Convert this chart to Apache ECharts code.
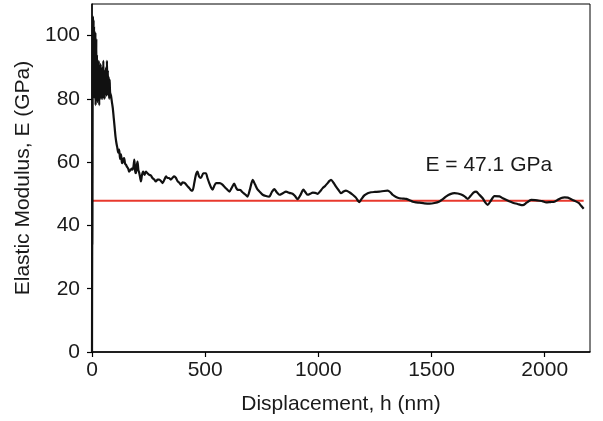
<!DOCTYPE html>
<html>
<head>
<meta charset="utf-8">
<script src="https://cdn.jsdelivr.net/npm/echarts@6/dist/echarts.min.js"></script>
<style>html,body{margin:0;padding:0;background:#fff}#c{width:603px;height:421px}</style>
</head>
<body>
<div id="c"></div>
<script>
// Displacement h (nm)
const hValues = [0,0.4,0.8,1.2,1.6,2,2.5,3,3.5,4,5,6,7,8,9,10,11,12,13,14,15,16,17,18,19,20,22,24,26,28,30,32,34,36,38,40,42,44,46,48,50,52,54,56,58,60,62,64,66,68,70,72,74,76,78,80,84,88,92,96,
100,104,108,112,116,120,124,128,132,135,138,142,146,150,155,160,164,170,175,179,183,187,191,194,198,201,205,209,213,216,221,226,232,238,245,253,260,267,275,282,290,297,305,312,320,327,334,340,348,355,363,371,378,386,393,400,408,415,423,430,437,444,452,459,466,473,481,492,503,510,518,526,533,540,548,556,565,575,584,595,607,618,628,636,643,655,665,677,687,698,710,720,732,743,754,768,783,794,805,816,828,843,857,872,886,897,908,920,934,943,953,964,975,986,997,1008,1019,1030,1040,1048,1056,1067,1078,1089,1100,1111,1122,1137,1152,1166,1175,1181,1190,1203,1218,1233,1250,1270,1290,1306,1318,1328,1343,1358,1373,1388,1403,1417,1432,1446,1468,1491,1513,1535,1550,1565,1583,1601,1616,1631,1646,1660,1672,1685,1697,1710,1726,1737,1748,1760,1778,1800,1815,1829,1845,1859,1880,1903,1920,1940,1958,1977,1992,2006,2025,2043,2058,2073,2088,2102,2117,2132,2150,2160,2172];
// Elastic modulus E (GPa)
const eValues = [0,18,30,38,34,42,62,85,100,106,104,96,105,90,103,86,100,80,98,84,101,78,96,83,99,80,94,79,90,81,92,78,88,82,91,80,87,83,90,80,92,83,88,80,89,82,90,81,92,84,89,81,87,80,86,82,81,79,77,74,
71,68,66,64.5,63,64,61,62.5,60,59.7,61,61.3,59.5,59.2,58.5,58,57,57.5,58,57.6,58.5,60.8,57,56.5,59,60.2,57.5,56.5,55,53.9,56,57,56,57,56.5,56,55.8,55,54.5,53.9,54.5,54.5,54,53.4,54.5,55.5,55,55,54.5,55,55.5,55,54,53.5,52.8,53.6,53.5,53,52.3,51.8,51.2,51,53.5,56,57,55.5,55,56.5,56.5,55,53.4,52,51.3,52.5,53.4,53.4,53.4,53,52.3,51.5,50.7,52,53.2,52,51.3,51.2,50.5,49.8,49.1,51.5,54.4,53,51.3,50.5,49.7,49.3,49.1,50.5,51.5,50.5,49.7,50.2,50.7,50.3,50,49.3,48.3,49.5,51.3,50.5,49.7,50,50.4,50.3,50,50.8,51.8,52.5,53.3,54,54.4,53.5,52.3,51.2,50.2,50.7,51,50.5,49.7,48.8,47.8,47.4,48.3,49.5,50.2,50.5,50.6,50.7,50.9,51,50.5,49.7,49,48.6,48.5,48.4,48,47.5,47.3,47.2,47,46.9,47.1,47.6,48.3,49.2,49.9,50.2,50.1,49.8,49.2,48.4,49.3,50.4,50.7,49.8,48.6,47.3,46.5,47.6,49.3,49.2,48.6,48.1,47.6,47.2,46.8,46.4,47.2,48.1,48,47.8,47.6,47.3,47.4,47.5,48.1,48.7,48.9,48.8,48.3,47.8,47.1,46.3,45.3];
// Fitted modulus line
const fitE = 47.8;
const fitRange = [0, 2172];
const annotationText = 'E = 47.1 GPa';
const annotationPos = [1753, 58.9];
const xTicks = [0, 500, 1000, 1500, 2000];
const yTicks = [0, 20, 40, 60, 80, 100];

const curve = hValues.map((h, i) => [h, eValues[i]]);
const fitLine = fitRange.map(h => [h, fitE]);

const FONT = 'Liberation Sans, Arial, Helvetica, sans-serif';
const TXT = '#1a1a1a';
const chart = echarts.init(document.getElementById('c'), null, {renderer: 'canvas'});
chart.setOption({
  animation: false,
  backgroundColor: '#fff',
  grid: {left: 92, top: 4, right: 13, bottom: 69, show: true, borderColor: '#000', borderWidth: 1, backgroundColor: 'transparent'},
  xAxis: {
    type: 'value', min: 0, max: 2200,
    name: 'Displacement, h (nm)', nameLocation: 'middle', nameGap: 42,
    nameTextStyle: {fontFamily: FONT, fontSize: 21, color: TXT},
    axisLine: {show: true, lineStyle: {color: '#000', width: 1.5}},
    axisTick: {show: true, length: 5, lineStyle: {color: '#000', width: 1.2}, customValues: xTicks},
    axisLabel: {fontFamily: FONT, fontSize: 21, color: TXT, margin: 8, customValues: xTicks, formatter: v => String(v)},
    splitLine: {show: false}
  },
  yAxis: {
    type: 'value', min: 0, max: 110,
    name: 'Elastic Modulus, E (GPa)', nameLocation: 'middle', nameGap: 55, nameRotate: 90,
    nameTextStyle: {fontFamily: FONT, fontSize: 21, color: TXT},
    axisLine: {show: true, lineStyle: {color: '#000', width: 1.5}},
    axisTick: {show: true, length: 5, lineStyle: {color: '#000', width: 1.2}, customValues: yTicks},
    axisLabel: {fontFamily: FONT, fontSize: 21, color: TXT, margin: 12, customValues: yTicks, formatter: v => String(v)},
    splitLine: {show: false}
  },
  series: [
    {type: 'line', data: fitLine, showSymbol: false, lineStyle: {color: '#e8382d', width: 2}, z: 2},
    {type: 'line', data: curve, showSymbol: false, smooth: 0.25, lineStyle: {color: '#111', width: 2.2}, z: 3},
    {type: 'scatter', data: [annotationPos], symbolSize: 0, itemStyle: {color: '#fff', opacity: 0},
     label: {show: true, position: 'inside', formatter: annotationText, fontFamily: FONT, fontSize: 21, color: TXT, textBorderWidth: 0, textBorderColor: 'transparent', opacity: 1}, z: 4}
  ]
});
</script>
</body>
</html>
